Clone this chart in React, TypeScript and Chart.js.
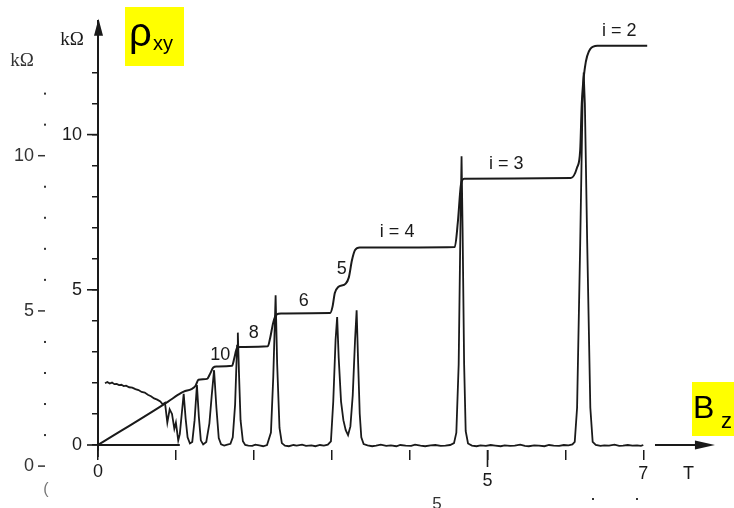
import { useEffect, useRef } from 'react';
import { Chart, registerables } from 'chart.js';

Chart.register(...registerables);

// Hall resistance rho_xy (B in tesla, R in kOhm)
const rhoXyB = [0, 0.9, 1.03, 1.1, 1.2, 1.25, 1.29, 1.4, 1.44, 1.48, 1.52, 1.72, 1.75, 1.78, 1.82, 2.18, 2.21, 2.25, 2.29, 2.35, 2.98, 3.01, 3.04, 3.08, 3.18, 3.22, 3.26, 3.3, 3.36, 4.58, 4.62, 4.66, 4.7, 6.07, 6.15, 6.19, 6.21, 6.25, 6.32, 6.41, 7.05];
const rhoXyR = [0, 1.4, 1.62, 1.72, 1.8, 1.9, 2.1, 2.13, 2.3, 2.5, 2.53, 2.55, 2.8, 3.1, 3.16, 3.18, 3.45, 3.95, 4.2, 4.24, 4.25, 4.45, 4.9, 5.08, 5.2, 5.4, 5.95, 6.28, 6.36, 6.38, 7.2, 8.4, 8.58, 8.6, 8.94, 9.5, 11.0, 12.15, 12.76, 12.86, 12.86];

// Longitudinal resistance rho_xx
const rhoXxB = [
  0.09, 0.12, 0.15, 0.18, 0.21, 0.24, 0.27, 0.3, 0.33, 0.36, 0.4, 0.44, 0.48, 0.52, 0.56, 0.6, 0.64, 0.68, 0.72, 0.76, 0.8, 0.83, 0.86,
  0.89, 0.92, 0.95, 0.98, 1.0, 1.03, 1.05, 1.075, 1.1, 1.125, 1.15, 1.18, 1.21, 1.24, 1.27, 1.295, 1.32, 1.35, 1.39, 1.43, 1.46, 1.49, 1.52, 1.55, 1.58, 1.62, 1.66, 1.7, 1.73, 1.76, 1.785, 1.795, 1.81, 1.83, 1.86, 1.89,
  1.93, 1.98, 2.02, 2.07, 2.12, 2.17, 2.22, 2.25, 2.28, 2.3, 2.33, 2.36, 2.4, 2.45, 2.51, 2.55, 2.62, 2.67, 2.74, 2.79, 2.85, 2.9, 2.95,
  2.99, 3.02, 3.05, 3.07, 3.09, 3.12, 3.15, 3.18, 3.21, 3.24, 3.27, 3.3, 3.32, 3.34, 3.36, 3.38, 3.41,
  3.46, 3.52, 3.57, 3.63, 3.7, 3.76, 3.83, 3.88, 3.95, 4.02, 4.07, 4.14, 4.2, 4.27, 4.33, 4.4, 4.46, 4.52, 4.57,
  4.6, 4.63, 4.655, 4.667, 4.68, 4.7, 4.72, 4.75,
  4.8, 4.86, 4.91, 4.98, 5.04, 5.1, 5.17, 5.22, 5.29, 5.35, 5.42, 5.48, 5.53, 5.6, 5.66, 5.73, 5.79, 5.85, 5.92, 5.98, 6.04, 6.09, 6.12,
  6.15, 6.19, 6.22, 6.235, 6.25, 6.28, 6.32, 6.35,
  6.39, 6.45, 6.5, 6.56, 6.63, 6.69, 6.74, 6.8, 6.86, 6.92, 6.97, 7.0,
];
const rhoXxR = [
  1.99, 2.03, 1.98, 2.01, 1.96, 1.97, 1.93, 1.94, 1.9, 1.91, 1.86, 1.85, 1.8, 1.77, 1.71, 1.69, 1.62, 1.57, 1.5, 1.46, 1.4, 1.31, 1.36,
  0.72, 1.15, 1.0, 0.52, 0.72, 0.15, 0.35, 1.0, 1.65, 0.85, 0.25, 0.05, 0.1, 0.8, 1.93, 0.9, 0.15, 0.02, 0.1, 0.7, 1.6, 2.41, 1.2, 0.22, 0.02, -0.02, 0.01, 0.04, 0.25, 1.3, 3.2, 3.62, 2.3, 0.8, 0.12, 0.0,
  -0.02, -0.03, 0.01, -0.01, -0.04, 0.0, 0.4, 2.2, 4.82, 2.6, 0.55, 0.06, -0.02, -0.04, 0.0, -0.02, 0.01, -0.03, -0.01, -0.04, 0.0, -0.02, 0.01,
  0.12, 1.4, 3.4, 4.12, 2.8, 1.4, 0.8, 0.48, 0.32, 0.6, 1.6, 3.4, 4.34, 2.6, 1.0, 0.25, 0.03,
  -0.01, -0.04, -0.02, 0.01, -0.03, -0.01, -0.04, 0.0, -0.02, -0.03, 0.01, -0.02, -0.04, -0.01, 0.0, -0.03, -0.02, 0.0, 0.06,
  0.4, 2.6, 7.5, 9.3, 7.0, 2.6, 0.45, 0.05,
  -0.02, -0.04, -0.01, -0.03, 0.0, -0.02, -0.04, -0.01, -0.03, -0.02, 0.01, -0.03, -0.04, -0.01, -0.02, -0.04, 0.0, -0.02, -0.03, 0.0, -0.01, 0.02, 0.1,
  1.2, 6.5, 11.0, 12.0, 11.0, 6.5, 1.2, 0.1,
  0.0, -0.03, -0.01, -0.02, 0.01, -0.03, -0.02, 0.0, -0.02, -0.01, -0.03, 0.0,
];

const yTickValues = [0, 1, 2, 3, 4, 5, 6, 7, 8, 9, 10, 11, 12];
const yTickLabelValues = [0, 5, 10];
const xTickValues = [0, 1, 2, 3, 4, 5, 6, 7];
const xTickLabelValues = [0, 5, 7];
const xAxisSegmentEnd = 1.05;
const xArrowFrom = 7.15;
const xArrowTo = 7.92;

const plateauLabels = ['i = 2', 'i = 3', 'i = 4', '5', '6', '8', '10'];
const plateauLabelB = [6.69, 5.24, 3.84, 3.13, 2.64, 2.0, 1.57];
const plateauLabelR = [13.34, 9.04, 6.85, 5.66, 4.63, 3.6, 2.89];

// faint second (scanned-through) axis on the left
const ghostTickValues = [0, 1, 2, 3, 4, 5, 6, 7, 8, 9, 10, 11, 12];
const ghostLabelValues = [0, 5, 10];
const ghostOffset = 0.68;

const SANS = '"Liberation Sans", Arial, sans-serif';
const SERIF = '"Liberation Serif", "Times New Roman", serif';
const INK = '#1a1a1a';

const overlay = {
  id: 'overlay',
  afterDraw(chart: any) {
    const { ctx, chartArea } = chart;
    const xs = chart.scales.x;
    const ys = chart.scales.y;
    const px = (v: number) => xs.getPixelForValue(v);
    const py = (v: number) => ys.getPixelForValue(v);
    const x0 = px(0);
    const y0 = py(0);
    ctx.save();
    ctx.strokeStyle = INK;
    ctx.fillStyle = INK;
    ctx.lineCap = 'butt';

    // x axis segment
    ctx.lineWidth = 2;
    ctx.beginPath();
    ctx.moveTo(x0, y0);
    ctx.lineTo(px(xAxisSegmentEnd), y0);
    ctx.stroke();

    // y arrow head
    ctx.beginPath();
    ctx.moveTo(x0 + 0.5, chartArea.top - 2);
    ctx.lineTo(x0 - 4, chartArea.top + 15);
    ctx.lineTo(x0 + 5, chartArea.top + 15);
    ctx.closePath();
    ctx.fill();

    // major y ticks
    ctx.lineWidth = 1.6;
    yTickLabelValues.forEach((v) => {
      ctx.beginPath();
      ctx.moveTo(x0 - 11, py(v));
      ctx.lineTo(x0, py(v));
      ctx.stroke();
    });

    // extended x ticks
    ctx.beginPath();
    ctx.moveTo(x0, y0);
    ctx.lineTo(x0, chartArea.bottom + 7);
    ctx.moveTo(px(5), chartArea.bottom);
    ctx.lineTo(px(5), chartArea.bottom + 17);
    ctx.stroke();

    // x arrow
    ctx.lineWidth = 2;
    const ax1 = px(xArrowFrom);
    const ax2 = px(xArrowTo);
    ctx.beginPath();
    ctx.moveTo(ax1, y0);
    ctx.lineTo(ax2 - 10, y0);
    ctx.stroke();
    ctx.beginPath();
    ctx.moveTo(ax2, y0);
    ctx.lineTo(ax2 - 20, y0 - 4.5);
    ctx.lineTo(ax2 - 20, y0 + 4.5);
    ctx.closePath();
    ctx.fill();

    // x tick labels
    ctx.font = `18px ${SANS}`;
    ctx.textAlign = 'center';
    ctx.textBaseline = 'middle';
    const xLabelDy = [22, 31, 24];
    xTickLabelValues.forEach((v, i) => {
      ctx.fillText(String(v), px(v), chartArea.bottom + xLabelDy[i]);
    });
    ctx.fillText('T', px(7.58), chartArea.bottom + 24);

    // unit label
    ctx.font = `19px ${SERIF}`;
    ctx.fillText('kΩ', x0 - 26, chartArea.top + 19);

    // plateau labels
    ctx.font = `18px ${SANS}`;
    plateauLabels.forEach((t, i) => {
      ctx.fillText(t, px(plateauLabelB[i]), py(plateauLabelR[i]));
    });

    // ghost axis
    ctx.fillStyle = '#333';
    ctx.strokeStyle = '#333';
    ctx.textAlign = 'right';
    ctx.font = `18px ${SANS}`;
    ghostTickValues.forEach((v) => {
      const gy = py(v - ghostOffset);
      if (ghostLabelValues.includes(v)) {
        ctx.fillText(String(v), 34, gy);
        ctx.lineWidth = 1.5;
        ctx.beginPath();
        ctx.moveTo(38, gy);
        ctx.lineTo(45, gy);
        ctx.stroke();
      } else {
        ctx.fillRect(44, gy - 1, 2, 2);
      }
    });
    ctx.textAlign = 'center';
    ctx.font = `19px ${SERIF}`;
    ctx.fillText('kΩ', 22, py(13.3 - ghostOffset) + 8);
    ctx.fillStyle = '#777';
    ctx.font = `16px ${SANS}`;
    ctx.fillText('(', 46, chartArea.bottom + 40);
    ctx.fillStyle = '#333';
    ctx.textBaseline = 'top';
    ctx.font = `17px ${SANS}`;
    ctx.fillText('5', 437, chartArea.bottom + 46);
    ctx.fillRect(592, chartArea.bottom + 48, 2, 2);
    ctx.fillRect(636, chartArea.bottom + 48, 2, 2);

    // yellow labels
    ctx.fillStyle = '#ffff00';
    ctx.fillRect(125, 7, 59, 59);
    ctx.fillRect(692, 382, 42, 54);
    ctx.fillStyle = '#000';
    ctx.textAlign = 'left';
    ctx.textBaseline = 'alphabetic';
    ctx.font = `40px ${SANS}`;
    ctx.fillText('ρ', 129, 46);
    ctx.font = `20px ${SANS}`;
    ctx.fillText('xy', 153, 50);
    ctx.font = `32px ${SANS}`;
    ctx.fillText('B', 693, 418);
    ctx.font = `22px ${SANS}`;
    ctx.fillText('z', 721, 428);

    ctx.restore();
  },
};

export default function App() {
  const ref = useRef<HTMLCanvasElement>(null);
  useEffect(() => {
    const chart = new Chart(ref.current as HTMLCanvasElement, {
      type: 'line',
      data: {
        datasets: [
          {
            label: 'ρxx',
            data: rhoXxB.map((b, i) => ({ x: b, y: rhoXxR[i] })),
            borderColor: INK,
            borderWidth: 1.8,
            pointRadius: 0,
            tension: 0,
            fill: false,
          },
          {
            label: 'ρxy',
            data: rhoXyB.map((b, i) => ({ x: b, y: rhoXyR[i] })),
            borderColor: INK,
            borderWidth: 2,
            pointRadius: 0,
            cubicInterpolationMode: 'monotone',
            fill: false,
          },
        ],
      },
      options: {
        responsive: false,
        animation: false,
        events: [],
        layout: { padding: { left: 0, right: 12.8, top: 20, bottom: 0 } },
        plugins: { legend: { display: false }, tooltip: { enabled: false } },
        scales: {
          x: {
            type: 'linear',
            min: 0,
            max: 8,
            afterFit: (s: any) => {
              s.height = 58;
            },
            afterBuildTicks: (s: any) => {
              s.ticks = xTickValues.map((v) => ({ value: v }));
            },
            ticks: { display: false },
            border: { display: false },
            grid: { drawOnChartArea: false, drawTicks: true, tickLength: 10, color: INK, lineWidth: 1.5 },
          },
          y: {
            type: 'linear',
            min: -0.161,
            max: 13.666,
            afterFit: (s: any) => {
              s.width = 98;
            },
            afterBuildTicks: (s: any) => {
              s.ticks = yTickValues.map((v) => ({ value: v }));
            },
            ticks: {
              callback: (v: any) => (yTickLabelValues.includes(Number(v)) ? String(v) : ''),
              font: { family: SANS, size: 18 },
              color: INK,
              padding: 10,
            },
            border: { display: true, color: INK, width: 2 },
            grid: { drawOnChartArea: false, drawTicks: true, tickLength: 6, color: INK, lineWidth: 1.5 },
          },
        },
      },
      plugins: [overlay],
    } as any);
    return () => chart.destroy();
  }, []);
  return (
    <div style={{ position: 'absolute', left: 0, top: 0, width: 734, height: 508, background: '#fff' }}>
      <canvas ref={ref} width={734} height={508} style={{ display: 'block' }} />
    </div>
  );
}
